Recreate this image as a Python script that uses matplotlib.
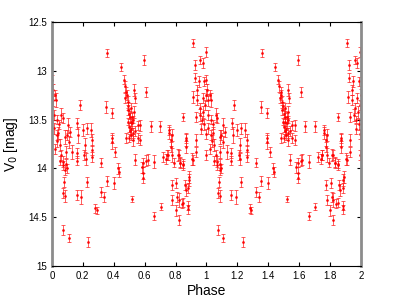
import matplotlib
matplotlib.use("Agg")
import matplotlib.pyplot as plt
import numpy as np

plt.rcParams['font.family'] = ['Liberation Sans', 'DejaVu Sans']

# phase in [0, 1), V0 magnitude, error
phase = [0.000, 0.005, 0.020, 0.026, 0.013, 0.013, 0.030, 0.040, 0.060, 0.070,
         0.050, 0.060, 0.070, 0.085, 0.095, 0.105, 0.110, 0.120, 0.130, 0.090,
         0.070, 0.165, 0.170, 0.160, 0.180, 0.200, 0.215, 0.210, 0.225, 0.250,
         0.260, 0.260, 0.320, 0.350, 0.390, 0.390, 0.430, 0.480, 0.357, 0.445,
         0.595, 0.465, 0.470, 0.480, 0.530, 0.535, 0.610, 0.490, 0.490, 0.505,
         0.520, 0.525, 0.530, 0.555, 0.640, 0.700, 0.390, 0.500, 0.525, 0.525,
         0.555, 0.570, 0.570, 0.540, 0.590, 0.620, 0.660, 0.720, 0.750, 0.760,
         0.770, 0.770, 0.780, 0.790, 0.830, 0.820, 0.850, 0.870, 0.870, 0.910,
         0.930, 0.910, 0.995, 0.960, 0.975, 0.925, 0.925, 0.950, 0.985, 0.998,
         0.915, 0.940, 0.960, 0.980, 0.930, 0.970, 0.760, 0.780, 0.870, 0.930,
         0.475, 0.495, 0.500, 0.510, 0.515, 0.485, 0.500, 0.940, 0.955, 0.965,
         0.990, 0.985, 0.995, 0.975, 0.010, 0.030, 0.035, 0.045, 0.020,
         0.074, 0.110, 0.235, 0.160, 0.190, 0.225, 0.075, 0.085, 0.080, 0.280,
         0.290, 0.320, 0.340, 0.355, 0.400, 0.435, 0.520, 0.590, 0.590, 0.580,
         0.660, 0.705, 0.775, 0.805, 0.780, 0.800, 0.820, 0.820, 0.840, 0.865,
         0.880, 0.890, 0.880, 0.880, 0.905, 0.050, 0.090, 0.160, 0.220, 0.260,
         0.410, 0.610, 0.740, 0.850, 0.085, 0.095, 0.745, 0.815, 0.830, 0.850,
         0.995, 0.860, 0.885, 0.850, 0.810,
         0.505, 0.515, 0.495, 0.520, 0.510, 0.540]
mag = [13.09, 13.20, 13.25, 13.30, 13.45, 13.59, 13.66, 13.64, 13.45, 13.48,
       13.76, 13.86, 13.93, 13.68, 13.66, 13.56, 13.73, 13.63, 13.83, 13.83,
       13.97, 13.54, 13.66, 13.84, 13.35, 13.61, 13.76, 13.86, 13.59, 13.61,
       13.71, 13.81, 13.94, 13.37, 13.43, 13.73, 14.00, 13.69, 12.82, 12.96,
       12.89, 13.09, 13.16, 13.22, 13.20, 13.28, 13.22, 13.32, 13.40, 13.47,
       13.54, 13.50, 13.42, 13.56, 13.57, 13.57, 13.69, 13.69, 13.64, 13.71,
       13.69, 13.56, 13.71, 13.91, 13.94, 13.91, 13.93, 13.88, 13.86, 13.64,
       13.71, 13.78, 13.86, 13.94, 13.94, 13.86, 13.47, 13.78, 13.71, 13.91,
       13.83, 12.72, 12.81, 12.89, 12.92, 12.94, 13.07, 13.11, 13.11, 13.25,
       13.27, 13.30, 13.38, 13.42, 13.47, 13.50, 13.61, 13.66, 13.69, 13.71,
       13.28, 13.36, 13.44, 13.52, 13.60, 13.25, 13.58, 13.20, 13.45, 13.60,
       13.35, 13.55, 13.65, 13.28, 13.30, 13.50, 13.72, 13.55, 13.80,
       14.63, 14.71, 14.75, 14.27, 14.29, 14.14, 14.25, 14.28, 14.14, 14.41,
       14.43, 14.24, 14.29, 14.13, 14.15, 14.04, 14.31, 14.05, 14.10, 13.99,
       14.49, 14.39, 14.17, 14.15, 14.32, 14.43, 14.53, 14.32, 14.36, 14.22,
       14.20, 14.09, 14.38, 14.42, 13.90, 13.92, 13.95, 13.92, 13.90, 13.88,
       13.83, 13.92, 13.90, 13.95, 14.02, 14.00, 13.86, 13.86, 13.94, 13.97,
       13.86, 14.17, 14.12, 14.35, 14.29,
       13.62, 13.66, 13.52, 13.47, 13.38, 13.62]
err = [0.05, 0.06, 0.05, 0.07, 0.05, 0.06, 0.05, 0.06, 0.07, 0.05,
       0.06, 0.05, 0.06, 0.07, 0.05, 0.08, 0.06, 0.05, 0.07, 0.06,
       0.05, 0.06, 0.08, 0.05, 0.05, 0.06, 0.07, 0.05, 0.06, 0.07,
       0.06, 0.05, 0.05, 0.06, 0.05, 0.07, 0.06, 0.05, 0.04, 0.04,
       0.05, 0.05, 0.06, 0.05, 0.06, 0.05, 0.05, 0.06, 0.05, 0.06,
       0.05, 0.04, 0.06, 0.05, 0.06, 0.06, 0.05, 0.04, 0.05, 0.06,
       0.05, 0.06, 0.05, 0.06, 0.05, 0.06, 0.07, 0.05, 0.05, 0.06,
       0.06, 0.05, 0.07, 0.05, 0.06, 0.05, 0.04, 0.06, 0.06, 0.05,
       0.05, 0.04, 0.05, 0.04, 0.05, 0.05, 0.05, 0.06, 0.05, 0.06,
       0.06, 0.05, 0.05, 0.06, 0.05, 0.04, 0.05, 0.06, 0.05, 0.06,
       0.05, 0.04, 0.05, 0.05, 0.06, 0.05, 0.05, 0.05, 0.06, 0.05,
       0.05, 0.06, 0.05, 0.05, 0.06, 0.05, 0.06, 0.05, 0.05,
       0.05, 0.04, 0.05, 0.05, 0.07, 0.05, 0.05, 0.06, 0.05, 0.05,
       0.04, 0.05, 0.05, 0.05, 0.06, 0.05, 0.03, 0.06, 0.05, 0.06,
       0.04, 0.04, 0.05, 0.05, 0.05, 0.06, 0.05, 0.07, 0.05, 0.06,
       0.05, 0.06, 0.05, 0.05, 0.06, 0.05, 0.05, 0.05, 0.06, 0.05,
       0.05, 0.06, 0.05, 0.05, 0.05, 0.05, 0.05, 0.06, 0.05, 0.05,
       0.05, 0.05, 0.06, 0.05, 0.05,
       0.05, 0.05, 0.04, 0.05, 0.05, 0.05]

phase = np.array(phase)
mag = np.array(mag)
err = np.array(err)

fig = plt.figure(figsize=(3.99, 3.0), dpi=100)
ax = fig.add_axes([0.13, 0.113, 0.775, 0.814])

# same data shown twice, over two cycles
for shift in (0, 1):
    ax.errorbar(phase + shift, mag, yerr=err, fmt='.', color='red',
                ecolor='#ff2020', elinewidth=0.6, capsize=1.3, capthick=0.6,
                markersize=2, alpha=0.85)

ax.set_xlim(0, 2)
ax.set_ylim(15, 12.5)
ax.set_xticks(np.arange(0, 2.01, 0.2))
ax.set_xticklabels(['0', '0.2', '0.4', '0.6', '0.8', '1', '1.2', '1.4', '1.6', '1.8', '2'])
ax.set_yticks([12.5, 13, 13.5, 14, 14.5, 15])
ax.set_yticklabels(['12.5', '13', '13.5', '14', '14.5', '15'])
ax.tick_params(direction='in', length=3, width=0.8, labelsize=7,
               top=True, right=True)
for s in ('left', 'right'):
    ax.spines[s].set_color('#8c8c8c')
    ax.spines[s].set_linewidth(2)
for s in ('top', 'bottom'):
    ax.spines[s].set_color('black')
    ax.spines[s].set_linewidth(0.8)

ax.set_xlabel('Phase', fontsize=10, labelpad=2)
ax.set_ylabel('V$_0$ [mag]', fontsize=10, labelpad=6)

fig.savefig('out.png', dpi=100)
